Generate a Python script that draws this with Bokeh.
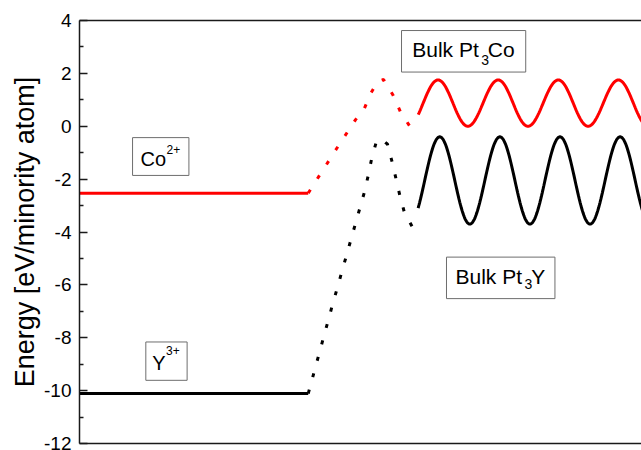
import numpy as np
from bokeh.plotting import figure
from bokeh.models import Range1d, LinearAxis, FixedTicker, Title
from bokeh.core.properties import value
from bokeh.embed import file_html
from bokeh.resources import INLINE

# Energy levels of the free ions (flat segments)
level_x = [0.0, 4.07]
co_ion_level = [-2.53, -2.53]
y_ion_level = [-10.11, -10.11]

# Transition paths from ion level into the bulk (dotted)
co_path_x = [4.07, 4.57, 4.91, 5.07, 5.19, 5.31, 5.41, 5.58, 5.71, 5.87]
co_path_y = [-2.53, -0.86, 0.24, 0.68, 1.27, 1.70, 1.77, 1.17, 0.55, 0.02]
y_path_x = [4.07, 4.48, 4.90, 5.07, 5.14, 5.20, 5.28, 5.37, 5.48, 5.56, 5.63, 5.70, 5.78, 5.92]
y_path_y = [-10.11, -6.92, -3.76, -2.49, -1.84, -1.21, -0.60, -0.47, -0.68, -1.33, -1.97, -2.62, -3.25, -3.80]

# Extremes (alternating trough / crest) of the bulk potential wells
co_bulk_x = [5.85, 6.38, 6.91, 7.45, 7.98, 8.52, 9.05, 9.59, 10.12]
co_bulk_y = [0.0, 1.75, 0.0, 1.75, 0.0, 1.75, 0.0, 1.75, 0.0]
y_bulk_x = [5.875, 6.41, 6.945, 7.48, 8.015, 8.55, 9.085, 9.62, 10.155]
y_bulk_y = [-3.7, -0.4, -3.7, -0.4, -3.7, -0.4, -3.7, -0.4, -3.7]
bulk_start = 6.02

y_ticks = [-12, -10, -8, -6, -4, -2, 0, 2, 4]
y_tick_labels = ["-12", "-10", "-8", "-6", "-4", "-2", "0", "2", "4"]

FONT = "Liberation Sans"


def well_curve(ex, ey, x_start, x_end=10.0, n=40):
    """Smooth half-cosine segments joining consecutive extremes."""
    xs, ys = [], []
    for i in range(len(ex) - 1):
        t = np.linspace(0.0, 1.0, n)
        xs.append(ex[i] + (ex[i + 1] - ex[i]) * t)
        ys.append(ey[i] + (ey[i + 1] - ey[i]) * (1 - np.cos(np.pi * t)) / 2)
    xs = np.concatenate(xs)
    ys = np.concatenate(ys)
    keep = (xs >= x_start) & (xs <= x_end + 0.05)
    return xs[keep], ys[keep]


p = figure(width=641, height=450, output_backend="svg", toolbar_location=None,
           x_range=Range1d(0, 10), y_range=Range1d(-12, 4),
           min_border_left=79, min_border_right=0, min_border_top=20,
           min_border_bottom=7, x_axis_location=None, y_axis_location=None)
p.grid.visible = False
p.outline_line_color = None
p.background_fill_color = "white"
p.border_fill_color = "white"

# left energy axis, ticks pointing inward
ya = LinearAxis(ticker=FixedTicker(ticks=y_ticks, minor_ticks=list(range(-11, 4, 2))))
ya.major_label_overrides = {t: s for t, s in zip(y_ticks, y_tick_labels)}
ya.major_label_text_font = FONT
ya.major_label_text_font_size = "19px"
ya.major_label_text_color = "black"
ya.major_label_standoff = 8
ya.major_tick_in = 8
ya.major_tick_out = 0
ya.minor_tick_in = 4
ya.minor_tick_out = 0
ya.axis_line_width = 1.5
ya.major_tick_line_width = 1.5
ya.minor_tick_line_width = 1.5
ya.axis_line_color = "#1a1a1a"
ya.major_tick_line_color = "#1a1a1a"
ya.minor_tick_line_color = "#1a1a1a"
p.add_layout(ya, "left")

# vertical axis title, nudged slightly below the frame centre
p.add_layout(Title(text="Energy [eV/minority atom]", align="center", offset=-9,
                   text_font=FONT, text_font_size="27px",
                   text_font_style="normal", text_color="black", standoff=4),
             "left")

# bottom and top frame lines only
for loc in ("below", "above"):
    ax = LinearAxis(ticker=FixedTicker(ticks=[]))
    ax.major_label_text_font_size = "0px"
    ax.major_tick_line_color = None
    ax.minor_tick_line_color = None
    ax.axis_line_width = 1.5
    ax.axis_line_color = "#1a1a1a"
    p.add_layout(ax, loc)

# ion levels
p.line(level_x, co_ion_level, line_color="red", line_width=3)
p.line(level_x, y_ion_level, line_color="black", line_width=3)

# dotted transition paths
p.line(co_path_x, co_path_y, line_color="red", line_width=3, line_dash="4 13")
p.line(y_path_x, y_path_y, line_color="black", line_width=3, line_dash="4 13")

# bulk wells
cx, cy = well_curve(co_bulk_x, co_bulk_y, bulk_start)
p.line(cx, cy, line_color="red", line_width=3)
yx, yy = well_curve(y_bulk_x, y_bulk_y, bulk_start)
p.line(yx, yy, line_color="black", line_width=3)

# label boxes
box_left = [0.944, 1.18, 5.73, 6.53]
box_right = [1.947, 1.915, 7.94, 8.46]
box_top = [-0.43, -8.16, 3.62, -4.95]
box_bottom = [-1.86, -9.61, 2.05, -6.52]
p.quad(left=box_left, right=box_right, top=box_top, bottom=box_bottom,
       fill_color="white", line_color="#6e6e6e", line_width=1)


def txt(x, y, s, size):
    p.text(x=[x], y=[y], text=[s], text_font=value(FONT), text_font_size=size,
           text_baseline="alphabetic", text_align="left", text_color="black")


txt(1.085, -1.25, "Co", "20px")
txt(1.548, -0.87, "2+", "12px")
txt(1.294, -8.96, "Y", "20px")
txt(1.54, -8.49, "3+", "12px")
txt(5.92, 2.90, "Bulk Pt", "21px")
txt(7.147, 2.52, "3", "14px")
txt(7.265, 2.90, "Co", "21px")
txt(6.69, -5.68, "Bulk Pt", "21px")
txt(7.92, -5.97, "3", "14px")
txt(8.04, -5.68, "Y", "21px")

open("out.html", "w").write(file_html(p, INLINE))
